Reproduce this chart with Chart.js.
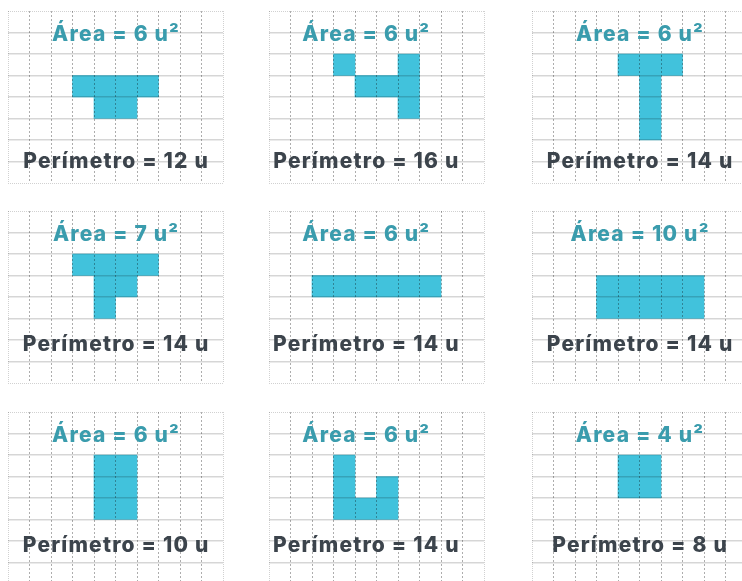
<!DOCTYPE html>
<html><head><meta charset="utf-8">
<script src="https://cdn.jsdelivr.net/npm/chart.js@4.4.0/dist/chart.umd.min.js"></script>
<style>
html,body{margin:0;padding:0;background:#fff;width:742px;height:581px;overflow:hidden;position:relative}
canvas{position:absolute}
</style></head><body>
<script>
// grid columns (category axis) and grid rows (y axis, 0 = bottom, 8 = top)
const columns = ['0','1','2','3','4','5','6','7','8','9'];
const rowMin = 0, rowMax = 8;
// each shape: per column, filled range [from, to] in row units (null = empty column)
const shape1 = [null, null, null, [4,5], [3,5], [3,5], [4,5], null, null, null];
const shape2 = [null, null, null, [5,6], [4,5], [4,5], [3,6], null, null, null];
const shape3 = [null, null, null, null, [5,6], [2,6], [5,6], null, null, null];
const shape4 = [null, null, null, [5,6], [3,6], [4,6], [5,6], null, null, null];
const shape5 = [null, null, [4,5], [4,5], [4,5], [4,5], [4,5], [4,5], null, null];
const shape6 = [null, null, null, [3,5], [3,5], [3,5], [3,5], [3,5], null, null];
const shape7 = [null, null, null, null, [3,6], [3,6], null, null, null, null];
const shape8 = [null, null, null, [3,6], [3,4], [3,5], null, null, null, null];
const shape9 = [null, null, null, null, [4,6], [4,6], null, null, null, null];
const areas = [6, 6, 6, 7, 6, 10, 6, 6, 4];
const perimeters = [12, 16, 14, 14, 14, 14, 10, 14, 8];

const shapes = [shape1, shape2, shape3, shape4, shape5, shape6, shape7, shape8, shape9];

// layout (pixels)
const panelLeft = [7.7, 269.3, 531.7];
const panelTop = [10.7, 211, 412.3];
const cell = 21.5;
const pad = 1;
// text centre (column units) per panel column, baselines (row units) per panel row
const textCenter = [5, 4.5, 5];
const areaBase = [6.62, 6.62, 6.62];
const perimBase = [0.72, 1.48, 1.48];
const FONT = '800 21px Inter, "Noto Sans", sans-serif';
const SPACING = '1.2px';
const TEAL = '#3a9cad';
const DARK = '#3c444c';
const FILL = '#41c2dc';

function makePanel(i) {
  const r = Math.floor(i / 3), c = i % 3;
  const w = columns.length * cell, h = (rowMax - rowMin) * cell;
  const cv = document.createElement('canvas');
  cv.width = Math.round(w + 2 * pad);
  cv.height = Math.round(h + 2 * pad);
  cv.style.left = (panelLeft[c] - pad) + 'px';
  cv.style.top = (panelTop[r] - pad) + 'px';
  document.body.appendChild(cv);
  const areaText = 'Área = ' + areas[i] + ' u²';
  const perimText = 'Perímetro = ' + perimeters[i] + ' u';
  const textPlugin = {
    id: 'panelText',
    afterDraw(chart) {
      const {ctx, chartArea, scales} = chart;
      const cx = chartArea.left + (chartArea.right - chartArea.left) * textCenter[c] / columns.length;
      ctx.save();
      ctx.font = FONT;
      if ('letterSpacing' in ctx) ctx.letterSpacing = SPACING;
      ctx.textAlign = 'center';
      ctx.textBaseline = 'alphabetic';
      ctx.fillStyle = TEAL;
      ctx.fillText(areaText, cx + 0.6, scales.y.getPixelForValue(areaBase[r]));
      ctx.fillStyle = DARK;
      ctx.fillText(perimText, cx + 0.6, scales.y.getPixelForValue(perimBase[r]));
      ctx.restore();
    }
  };
  new Chart(cv, {
    type: 'bar',
    data: {
      labels: columns,
      datasets: [{
        data: shapes[i],
        backgroundColor: FILL,
        borderWidth: 0,
        barPercentage: 1,
        categoryPercentage: 1
      }]
    },
    options: {
      responsive: false,
      animation: false,
      events: [],
      layout: {padding: pad},
      plugins: {legend: {display: false}, tooltip: {enabled: false}},
      scales: {
        x: {
          grid: {
            z: 1, offset: true, drawTicks: false, lineWidth: 1,
            color: (ctx) => (ctx.index === undefined || ctx.index === 0) ? 'rgba(0,0,0,0.18)' : 'rgba(0,0,0,0.32)'
          },
          border: {display: false, dash: (ctx) => (ctx.index === undefined || ctx.index === 0) ? [1, 1] : [2, 2]},
          ticks: {display: false}
        },
        y: {
          min: rowMin, max: rowMax,
          grid: {
            z: 1, drawTicks: false,
            lineWidth: (ctx) => (ctx.tick && (ctx.tick.value === rowMin || ctx.tick.value === rowMax)) ? 1 : 1.5,
            color: (ctx) => (ctx.tick && (ctx.tick.value === rowMin || ctx.tick.value === rowMax)) ? 'rgba(0,0,0,0.18)' : 'rgba(0,0,0,0.16)'
          },
          border: {display: false, dash: (ctx) => (ctx.tick && (ctx.tick.value === rowMin || ctx.tick.value === rowMax)) ? [1, 1] : []},
          ticks: {display: false, stepSize: 1}
        }
      }
    },
    plugins: [textPlugin]
  });
}
for (let i = 0; i < 9; i++) makePanel(i);
</script>
</body></html>
